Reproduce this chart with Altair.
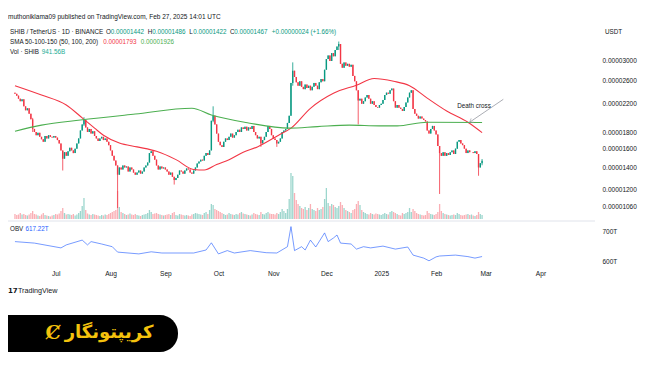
import altair as alt
import pandas as pd

# ---------------- data (prices in 1e-5 USDT) ----------------
month_starts = ["2024-06-08", "2024-07-01", "2024-08-01", "2024-09-01", "2024-10-01",
                "2024-11-01", "2024-12-01", "2025-01-01", "2025-02-01"]

close_jun = [2.36, 2.33, 2.28, 2.24, 2.27, 2.16, 2.10, 2.13, 2.05, 1.97, 1.84, 1.80, 1.76, 1.79,
             1.74, 1.71, 1.68, 1.75, 1.72, 1.76, 1.74, 1.73, 1.75]
close_jul = [1.73, 1.70, 1.66, 1.58, 1.49, 1.56, 1.52, 1.57, 1.61, 1.58, 1.55, 1.60, 1.66, 1.72,
             1.82, 1.90, 1.96, 1.86, 1.80, 1.84, 1.78, 1.81, 1.75, 1.72, 1.69, 1.72, 1.74, 1.70,
             1.72, 1.68, 1.64]
close_aug = [1.58, 1.52, 1.47, 1.42, 1.33, 1.40, 1.38, 1.42, 1.40, 1.41, 1.36, 1.40, 1.38, 1.35,
             1.33, 1.35, 1.37, 1.34, 1.36, 1.40, 1.42, 1.45, 1.55, 1.57, 1.52, 1.48, 1.42, 1.38,
             1.41, 1.39, 1.40]
close_sep = [1.38, 1.36, 1.33, 1.35, 1.31, 1.28, 1.30, 1.33, 1.37, 1.36, 1.34, 1.37, 1.39, 1.38,
             1.35, 1.34, 1.37, 1.40, 1.44, 1.46, 1.48, 1.47, 1.52, 1.55, 1.53, 1.58, 1.95, 2.02,
             1.90, 1.78]
close_oct = [1.68, 1.64, 1.62, 1.68, 1.72, 1.70, 1.74, 1.78, 1.73, 1.76, 1.80, 1.83, 1.80, 1.86,
             1.84, 1.87, 1.82, 1.86, 1.84, 1.88, 1.80, 1.76, 1.72, 1.74, 1.66, 1.70, 1.74, 1.80,
             1.88, 1.84, 1.76]
close_nov = [1.72, 1.70, 1.66, 1.68, 1.72, 1.80, 1.82, 1.84, 1.92, 2.02, 2.55, 2.78, 2.66, 2.56,
             2.50, 2.58, 2.48, 2.44, 2.52, 2.46, 2.50, 2.42, 2.48, 2.55, 2.50, 2.44, 2.56, 2.62,
             2.58, 2.80]
close_dec = [3.02, 3.10, 2.98, 3.15, 3.08, 3.22, 3.30, 3.36, 2.92, 2.84, 2.95, 2.88, 2.92, 2.86,
             2.90, 2.68, 2.58, 2.42, 2.25, 2.28, 2.20, 2.24, 2.30, 2.34, 2.28, 2.20, 2.24, 2.18,
             2.15, 2.14, 2.18]
close_jan = [2.20, 2.26, 2.34, 2.38, 2.36, 2.42, 2.45, 2.24, 2.14, 2.18, 2.14, 2.12, 2.09, 2.15,
             2.22, 2.30, 2.38, 2.42, 2.12, 2.05, 2.02, 1.98, 2.01, 1.98, 1.96, 1.94, 1.82, 1.78,
             1.84, 1.88, 1.82]
close_feb = [1.77, 1.63, 1.55, 1.52, 1.56, 1.52, 1.55, 1.53, 1.56, 1.58, 1.54, 1.60, 1.68, 1.70,
             1.66, 1.64, 1.60, 1.55, 1.58, 1.56, 1.56, 1.55, 1.57, 1.54, 1.40, 1.443, 1.467]

vol_jun = [10, 8, 9, 12, 9, 10, 8, 7, 9, 12, 16, 10, 9, 7, 6, 9, 12, 8, 7, 6, 5, 7, 8]
vol_jul = [10, 9, 11, 16, 22, 12, 9, 10, 9, 8, 10, 7, 9, 12, 16, 26, 42, 18, 11, 9, 8, 10, 9, 8,
           7, 6, 8, 7, 9, 8, 10]
vol_aug = [12, 14, 16, 18, 56, 24, 14, 12, 10, 8, 9, 11, 9, 8, 10, 8, 7, 6, 8, 9, 10, 12, 18, 14,
           10, 11, 12, 10, 9, 8, 7]
vol_sep = [8, 9, 10, 8, 12, 14, 8, 7, 10, 9, 8, 7, 8, 7, 6, 9, 10, 12, 11, 10, 9, 8, 12, 14, 10,
           18, 30, 28, 20, 18]
vol_oct = [16, 14, 12, 10, 8, 9, 12, 10, 9, 8, 10, 9, 12, 14, 11, 10, 9, 8, 7, 9, 12, 10, 9, 8,
           14, 10, 9, 12, 14, 11, 10]
vol_nov = [10, 9, 12, 10, 14, 20, 16, 12, 20, 40, 92, 86, 52, 38, 30, 26, 22, 20, 24, 18, 22, 30,
           20, 18, 16, 22, 18, 20, 24, 40]
vol_dec = [62, 32, 26, 30, 28, 24, 22, 26, 34, 28, 22, 18, 16, 14, 12, 18, 20, 30, 36, 28, 18, 14,
           12, 10, 9, 12, 10, 9, 11, 10, 9]
vol_jan = [8, 10, 12, 10, 9, 14, 16, 14, 12, 10, 8, 7, 12, 10, 12, 14, 22, 14, 20, 16, 12, 10, 9,
           8, 7, 8, 16, 12, 10, 9, 8]
vol_feb = [10, 14, 30, 16, 12, 10, 9, 8, 7, 8, 9, 8, 12, 10, 8, 7, 8, 9, 10, 8, 9, 7, 6, 8, 14,
           10, 8]

first_open = 2.38
wicks = {  # date: (low, high)
    "2024-06-18": (1.80, 1.99), "2024-07-05": (1.37, 1.58), "2024-07-17": (1.88, 2.00),
    "2024-08-05": (1.05, 1.42), "2024-09-06": (1.24, 1.31), "2024-09-28": (1.93, 2.16),
    "2024-10-25": (1.62, 1.74), "2024-11-03": (1.62, 1.70), "2024-11-12": (2.50, 2.95),
    "2024-12-08": (3.22, 3.42), "2024-12-19": (1.90, 2.42), "2025-02-03": (1.16, 1.63),
    "2025-02-25": (1.32, 1.54), "2025-02-27": (1.422, 1.486),
}

sma_red_dates = ["2024-06-08", "2024-06-23", "2024-07-07", "2024-07-16", "2024-07-23", "2024-07-28",
                 "2024-08-06", "2024-08-16", "2024-08-27", "2024-09-07", "2024-09-17", "2024-09-23",
                 "2024-09-30", "2024-10-07", "2024-10-15", "2024-10-23", "2024-11-04", "2024-11-11",
                 "2024-11-22", "2024-12-05", "2024-12-18", "2024-12-28", "2025-01-08", "2025-01-17",
                 "2025-01-27", "2025-02-07", "2025-02-19", "2025-02-27"]
sma_red_vals = [2.50, 2.34, 2.18, 1.99, 1.85, 1.76, 1.665, 1.62, 1.57, 1.48, 1.38, 1.375, 1.43, 1.48,
                1.56, 1.62, 1.76, 1.85, 2.13, 2.37, 2.51, 2.63, 2.58, 2.50, 2.29, 2.09, 1.93, 1.793]
sma_green_dates = ["2024-06-08", "2024-06-23", "2024-07-15", "2024-08-15", "2024-09-16", "2024-09-27",
                   "2024-10-18", "2024-11-10", "2024-11-26", "2024-12-14", "2024-12-31", "2025-01-10",
                   "2025-01-27", "2025-02-27"]
sma_green_vals = [1.81, 1.89, 1.96, 2.045, 2.13, 2.03, 1.92, 1.85, 1.87, 1.89, 1.88, 1.88, 1.93, 1.926]

obv_dates = ["2024-06-08", "2024-06-19", "2024-07-04", "2024-07-07", "2024-07-16", "2024-07-19",
             "2024-07-21", "2024-07-27", "2024-08-02", "2024-08-05", "2024-08-17", "2024-08-24",
             "2024-08-30", "2024-09-17", "2024-09-24", "2024-09-27", "2024-10-01", "2024-10-06",
             "2024-10-10", "2024-10-19", "2024-10-28", "2024-11-03", "2024-11-09", "2024-11-11",
             "2024-11-13", "2024-11-17", "2024-11-19", "2024-11-22", "2024-11-25", "2024-11-30",
             "2024-12-02", "2024-12-05", "2024-12-07", "2024-12-09", "2024-12-15", "2024-12-18",
             "2024-12-22", "2024-12-26", "2025-01-02", "2025-01-09", "2025-01-16", "2025-01-19",
             "2025-01-25", "2025-01-28", "2025-02-01", "2025-02-03", "2025-02-12", "2025-02-19",
             "2025-02-23", "2025-02-27"]
obv_vals = [667, 662, 646, 656, 672, 656, 667, 659, 650, 632, 626, 633, 629, 629, 639, 663, 626, 637,
            629, 637, 630, 629, 650, 717, 637, 650, 639, 672, 649, 696, 667, 679, 689, 662, 659, 642,
            650, 646, 652, 642, 649, 622, 612, 603, 616, 619, 622, 617, 612, 617.22]

price_ticks = [1.06, 1.2, 1.4, 1.6, 1.8, 2.2, 2.6, 3.0]
obv_ticks = [600, 700]

# ---------------- tables ----------------
closes_by_month = [close_jun, close_jul, close_aug, close_sep, close_oct, close_nov, close_dec,
                   close_jan, close_feb]
vols_by_month = [vol_jun, vol_jul, vol_aug, vol_sep, vol_oct, vol_nov, vol_dec, vol_jan, vol_feb]
rows = []
prev = first_open
for start, cl, vl in zip(month_starts, closes_by_month, vols_by_month):
    for i, (c, v) in enumerate(zip(cl, vl)):
        ds = (pd.Timestamp(start) + pd.Timedelta(days=i)).strftime("%Y-%m-%d")
        o = prev
        lo, hi = min(o, c), max(o, c)
        if ds in wicks:
            lo, hi = min(lo, wicks[ds][0]), max(hi, wicks[ds][1])
        rows.append(dict(date=ds, open=o, close=c, low=lo, high=hi, vol=v,
                         dir="up" if c >= o else "down"))
        prev = c
candles = pd.DataFrame(rows)
red_df = pd.DataFrame({"date": sma_red_dates, "v": sma_red_vals})
green_df = pd.DataFrame({"date": sma_green_dates, "v": sma_green_vals})
obv_df = pd.DataFrame({"date": obv_dates, "v": obv_vals})
arrow_df = pd.DataFrame({"date": ["2025-03-11"], "date2": ["2025-02-20"], "p": [2.27], "p2": [1.93]})

# ---------------- styling ----------------
FONT = "Liberation Sans"
DARK = "#131722"
UP, DOWN = "#089981", "#f23645"
SMA_RED, SMA_GREEN = "#f23645", "#4caf50"
OBV_BLUE = "#2962ff"

x_scale = alt.Scale(type="utc", domain=[
    alt.DateTime(year=2024, month=6, date=6, hours=21, minutes=20, utc=True),
    alt.DateTime(year=2025, month=4, date=29, utc=True)])
month_ticks = [alt.DateTime(year=y, month=m, date=1, utc=True)
               for y, m in [(2024, 7), (2024, 8), (2024, 9), (2024, 10), (2024, 11), (2024, 12),
                            (2025, 1), (2025, 2), (2025, 3), (2025, 4)]]
x_axis = alt.Axis(values=month_ticks, title=None, ticks=False, domain=False, grid=False,
                  labelExpr="utcFormat(datum.value, '%m') == '01' ? utcFormat(datum.value, '%Y') : utcFormat(datum.value, '%b')",
                  labelFontSize=6.6, labelColor=DARK, labelFont=FONT, labelPadding=4,
                  labelFlush=False, labelOverlap=False)
price_scale = alt.Scale(type="log", domain=[1.0, 3.6], range=[206.9, 26.3], nice=False, zero=False)
price_axis = alt.Axis(orient="right", values=price_ticks, title=None, ticks=False, domain=False,
                      grid=False, labelExpr="format(datum.value * 1e-5, '.8f')", labelFontSize=6.5,
                      labelColor=DARK, labelFont=FONT, labelPadding=7, labelOverlap=False)
vol_axis = alt.Axis(orient="left", title=None, labels=False, ticks=False, domain=False, grid=False)
color = alt.Color("dir:N", scale=alt.Scale(domain=["up", "down"], range=[UP, DOWN]), legend=None)


def X(field):
    return alt.X(field, scale=x_scale, axis=x_axis, title=None)


def PY(field):
    return alt.Y(field, scale=price_scale, axis=price_axis, title=None)


# ---------------- price pane ----------------
base = alt.Chart(candles)
wick = base.mark_rule(strokeWidth=0.8).encode(x=X("date:T"), y=PY("low:Q"), y2="high:Q", color=color)
body = base.mark_rule(strokeWidth=1.4, strokeCap="butt").encode(
    x=X("date:T"), y=PY("open:Q"), y2="close:Q", color=color)
red_line = alt.Chart(red_df).mark_line(color=SMA_RED, strokeWidth=1.1, interpolate="monotone").encode(
    x=X("date:T"), y=PY("v:Q"))
green_line = alt.Chart(green_df).mark_line(color=SMA_GREEN, strokeWidth=1.1,
                                           interpolate="monotone").encode(x=X("date:T"), y=PY("v:Q"))
arrow = alt.Chart(arrow_df).mark_rule(color="#9598a1", strokeWidth=0.8).encode(
    x=X("date:T"), x2="date2:T", y=PY("p:Q"), y2="p2:Q")
head = alt.Chart(arrow_df).mark_point(shape="M -1 -0.7 L 0 0 L -1 0.7", size=45, filled=False,
                                      color="#9598a1", strokeWidth=0.8, angle=146).encode(
    x=X("date2:T"), y=PY("p2:Q"))
price = alt.layer(wick, body, red_line, green_line, arrow, head).resolve_scale(y="shared")

volume = base.mark_bar(width=1.3, opacity=0.4).encode(
    x=X("date:T"),
    y=alt.Y("vol:Q", scale=alt.Scale(domain=[0, 100], range=[211, 161], nice=False), axis=vol_axis,
            title=None),
    color=color)

obv = alt.Chart(obv_df).mark_line(color=OBV_BLUE, strokeWidth=0.8, opacity=0.8).encode(
    x=X("date:T"),
    y=alt.Y("v:Q", scale=alt.Scale(domain=[590, 720], range=[256.7, 217.7], nice=False, zero=False),
            title=None,
            axis=alt.Axis(orient="right", values=obv_ticks, labelExpr="datum.value + 'T'", title=None,
                          ticks=False, domain=False, grid=False, labelFontSize=6.5, labelColor=DARK,
                          labelFont=FONT, labelPadding=7, labelOverlap=False)))


def txt(s, x, y, color=DARK, size=6.3, align="left", weight="normal", font=FONT):
    return alt.Chart(pd.DataFrame({"t": [s]})).mark_text(
        align=align, baseline="middle", fontSize=size, color=color, font=font, fontWeight=weight
    ).encode(x=alt.value(x), y=alt.value(y), text="t:N")


one = pd.DataFrame({"k": [0]})
separator = alt.Chart(one).mark_rule(color="#e0e3eb", strokeWidth=1).encode(
    x=alt.value(0), x2=alt.value(587), y=alt.value(213))
brand_box = alt.Chart(one).mark_rect(color="#000000", cornerRadiusTopRight=18,
                                     cornerRadiusBottomRight=18).encode(
    x=alt.value(0), x2=alt.value(170), y=alt.value(307), y2=alt.value(344))

texts = [
    txt("muthoniklama09 published on TradingView.com, Feb 27, 2025 14:01 UTC", 0, 8.7, size=6.5),
    txt("SHIB / TetherUS · 1D · BINANCE", 2, 24.3),
    txt("O", 98, 24.3), txt("0.00001442", 102.7, 24.3, UP),
    txt("H", 139.7, 24.3), txt("0.00001486", 144.3, 24.3, UP),
    txt("L", 181.3, 24.3), txt("0.00001422", 185.3, 24.3, UP),
    txt("C", 222, 24.3), txt("0.00001467", 226.3, 24.3, UP),
    txt("+0.00000024 (+1.66%)", 263.7, 24.3, UP),
    txt("SMA 50-100-150 (50, 100, 200)", 2, 33.7),
    txt("0.00001793", 95.3, 33.7, SMA_RED), txt("0.00001926", 132.7, 33.7, SMA_GREEN),
    txt("Vol · SHIB", 2, 43.7), txt("941.56B", 33.7, 43.7, "#22ab94"),
    txt("USDT", 597, 23.7),
    txt("Death cross", 466, 98, align="center"),
    txt("OBV", 2, 221.3), txt("617.22T", 17.6, 221.3, OBV_BLUE),
    txt("17", 0, 283, size=7, weight="bold", font="DejaVu Sans"),
    txt("TradingView", 10, 283, size=7.2),
    txt("Ȼ", 45, 325, color="#f4c20d", size=19, align="center", weight="bold", font="DejaVu Serif"),
    txt("کریپتونگار", 101, 325, color="#f4c20d", size=18, align="center", weight="bold",
        font="DejaVu Sans"),
]

chart = alt.layer(volume, price, obv, separator, brand_box, *texts).resolve_scale(
    y="independent"
).properties(
    width=587, height=258,
    padding={"left": 0, "top": 0, "right": 43, "bottom": 86},
    autosize=alt.AutoSizeParams(type="none"),
).configure_view(stroke=None)

chart.save("out.html", embed_options={"renderer": "svg", "actions": False})
